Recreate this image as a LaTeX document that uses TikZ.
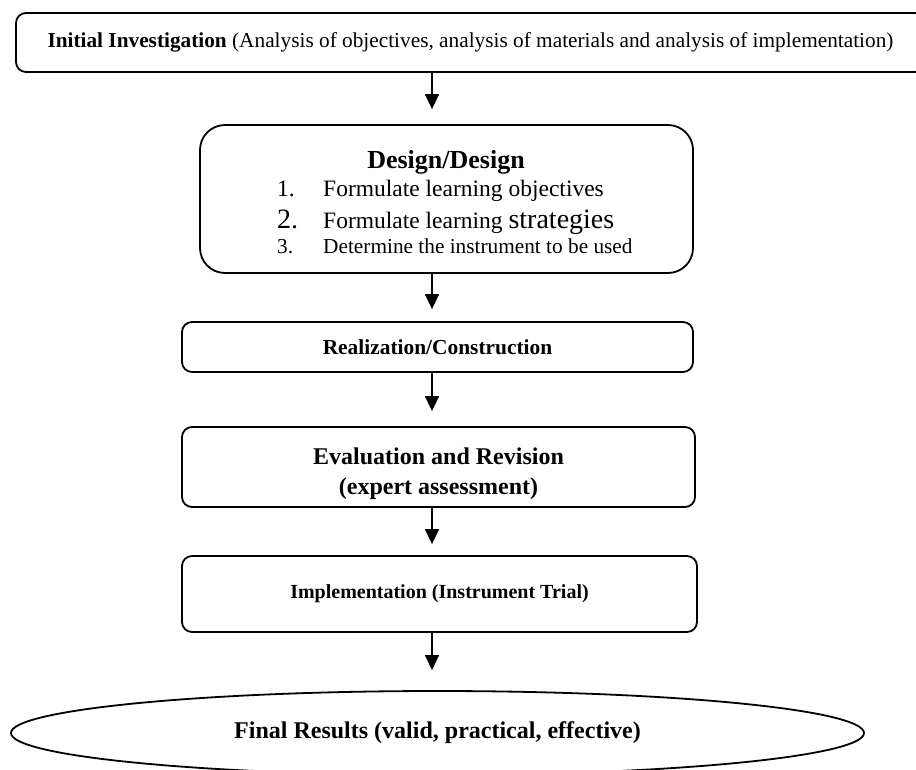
\documentclass[tikz,border=0pt]{standalone}
\usepackage{fontspec}
\setmainfont{Liberation Serif}
\usetikzlibrary{arrows.meta,shapes.geometric}
\tikzset{
  boxstyle/.style={draw, line width=1.8pt, rounded corners=10pt, inner sep=0pt},
  arr/.style={line width=1.5pt, -{Triangle[length=15pt,width=14pt]}},
  txt/.style={inner sep=0pt, anchor=base west},
}
\begin{document}
\begin{tikzpicture}[x=1pt,y=-1pt]
\useasboundingbox (0,0) rectangle (916,769);
\clip (0,0) rectangle (916,769);
% boxes
\node[boxstyle, minimum width=909pt, minimum height=59pt] (top) at (470.5,42.5) {};
\node[font=\fontsize{21.3}{24}\selectfont] (toptxt) at (470.5,42.5) {\textbf{Initial Investigation} (Analysis of objectives, analysis of materials and analysis of implementation)};
\node[boxstyle, rounded corners=25pt, minimum width=493pt, minimum height=148pt] (design) at (446.5,199) {};
\node[inner sep=0pt, anchor=base, font=\fontsize{26}{26}\selectfont\bfseries] (dtitle) at (446,168) {Design/Design};
\node[txt, font=\fontsize{23.5}{26}\selectfont] (n1) at (277,196) {1.};
\node[txt, font=\fontsize{23.5}{26}\selectfont] (i1) at (323,196) {Formulate learning objectives};
\node[txt, font=\fontsize{28}{30}\selectfont] (n2) at (277,228) {2.};
\node[txt] (i2) at (323,228) {\fontsize{23.5}{26}\selectfont Formulate learning \fontsize{28}{30}\selectfont strategies};
\node[txt, font=\fontsize{21.3}{24}\selectfont] (n3) at (277,253) {3.};
\node[txt, font=\fontsize{21.3}{24}\selectfont] (i3) at (323,253) {Determine the instrument to be used};
\node[boxstyle, minimum width=511pt, minimum height=50pt, font=\fontsize{21.4}{24}\selectfont\bfseries] (real) at (437.5,347) {Realization/Construction};
\node[boxstyle, minimum width=513pt, minimum height=80pt] (eval) at (438.5,467) {};
\node[align=center, inner sep=0pt, font=\fontsize{24}{30}\selectfont\bfseries] (evaltxt) at (438.5,474) {Evaluation and Revision\\(expert assessment)};
\node[boxstyle, minimum width=515pt, minimum height=76pt, font=\fontsize{20}{24}\selectfont\bfseries] (impl) at (439.5,594) {Implementation (Instrument Trial)};
\node[draw, ellipse, line width=1.8pt, inner sep=0pt, minimum width=853pt, minimum height=84pt, font=\fontsize{24}{28}\selectfont\bfseries] (final) at (437.5,733) {Final Results (valid, practical, effective)};
% arrows
\coordinate (ax) at (432,0);
\draw[arr, shorten >=15pt] (top.south -| ax) -- (design.north -| ax);
\draw[arr, shorten >=12pt] (design.south -| ax) -- (real.north -| ax);
\draw[arr, shorten >=15pt] (real.south -| ax) -- (eval.north -| ax);
\draw[arr, shorten >=11pt] (eval.south -| ax) -- (impl.north -| ax);
\draw[arr, shorten >=20pt] (impl.south -| ax) -- (final.north -| ax);
\end{tikzpicture}
\end{document}
